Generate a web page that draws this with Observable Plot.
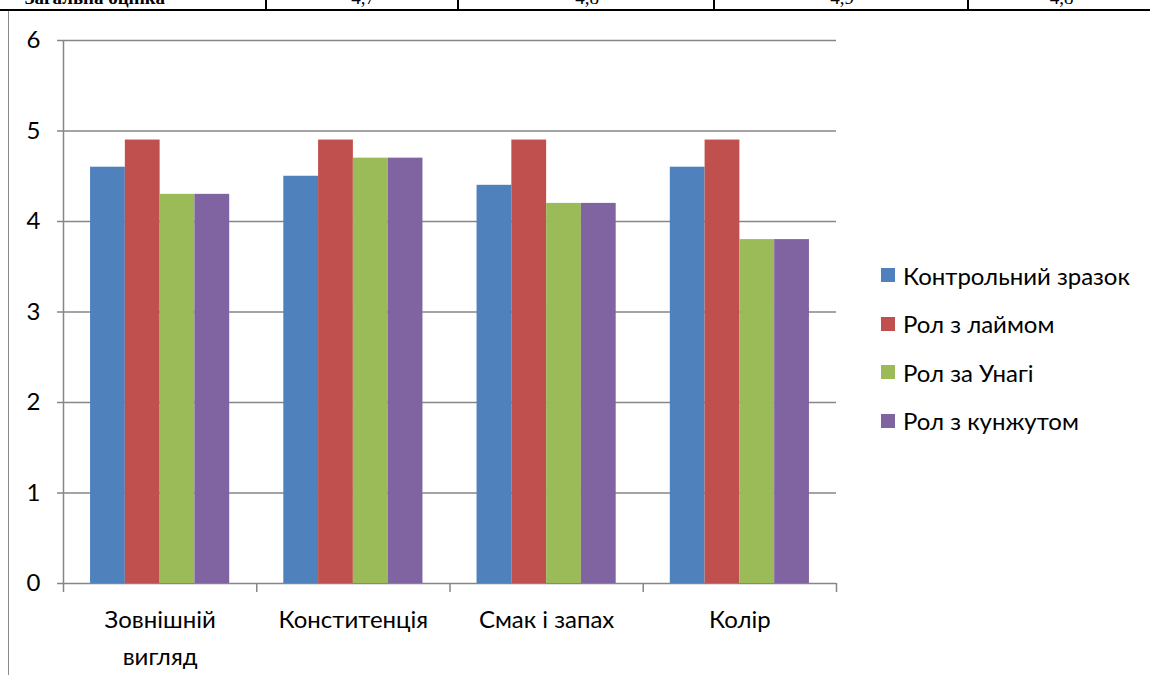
<!DOCTYPE html>
<html>
<head>
<meta charset="utf-8">
<script src="https://cdn.jsdelivr.net/npm/d3@7"></script>
<script src="https://cdn.jsdelivr.net/npm/@observablehq/plot@0.6"></script>
<style>
  html, body { margin: 0; padding: 0; background: #fff; }
  body { width: 1150px; height: 675px; position: relative; overflow: hidden; font-family: Lato, "Open Sans", sans-serif; }
  #table { position: absolute; left: 0; top: 0; width: 1150px; height: 9px; border-bottom: 2px solid #000; overflow: hidden; font-family: "Liberation Serif", serif; font-size: 19px; }
  #table .cell { position: absolute; top: 0; height: 9px; border-left: 2px solid #000; }
  #table .txt { position: absolute; bottom: 2px; white-space: nowrap; line-height: 19px; }
  #table .lab { font-weight: bold; }
  #frame { position: absolute; left: 8px; top: 11px; bottom: 0; width: 0; border-left: 1.5px solid #8a8a8a; }
  #chart { position: absolute; left: 0; top: 0; }
  #legend { position: absolute; left: 881px; top: 251px; font-family: Lato, sans-serif; font-size: 24px; color: #000; }
  #legend .item { height: 48.5px; display: flex; align-items: center; }
  #legend .sw { width: 14px; height: 14px; margin-right: 8px; flex: none; }
</style>
</head>
<body>
<div id="table"></div>
<div id="frame"></div>
<div id="chart"></div>
<div id="legend"></div>
<script>
// ---- data ----
const categories = ["Зовнішній вигляд", "Конститенція", "Смак і запах", "Колір"];
const categoryLines = ["Зовнішній\nвигляд", "Конститенція", "Смак і запах", "Колір"];
const series = ["Контрольний зразок", "Рол з лаймом", "Рол за Унагі", "Рол з кунжутом"];
const control = [4.6, 4.5, 4.4, 4.6];
const lime = [4.9, 4.9, 4.9, 4.9];
const unagi = [4.3, 4.7, 4.2, 3.8];
const sesame = [4.3, 4.7, 4.2, 3.8];
const yTicks = [0, 1, 2, 3, 4, 5, 6];
const colors = ["#4F81BD", "#C0504D", "#9BBB59", "#8064A2"];
const tableLabel = "Загальна оцінка";
const tableValues = ["4,7", "4,8", "4,9", "4,8"];

// ---- top table fragment (cut off by the page edge, as in the source) ----
const table = document.getElementById("table");
const cellEdges = [265, 457, 713, 967, 1152];
{
  const t = document.createElement("div");
  t.className = "txt lab";
  t.style.right = (1150 - 165) + "px";
  t.textContent = tableLabel;
  table.appendChild(t);
}
tableValues.forEach((v, i) => {
  const c = document.createElement("div");
  c.className = "cell";
  c.style.left = cellEdges[i] + "px";
  c.style.width = (cellEdges[i + 1] - cellEdges[i]) + "px";
  const t = document.createElement("div");
  t.className = "txt";
  t.style.left = "0"; t.style.right = "0"; t.style.textAlign = "center";
  t.textContent = v;
  c.appendChild(t);
  table.appendChild(c);
});

// ---- chart ----
const seriesValues = [control, lime, unagi, sesame];
const rows = categories.flatMap((c, ci) =>
  seriesValues.map((vals, si) => ({ci, si, category: c, series: series[si], value: vals[ci]}))
);
const GAP = 0.14, BW = 0.18;
const gray = "#868686";

const chart = Plot.plot({
  width: 1150,
  height: 675,
  marginLeft: 63,
  marginRight: 314,
  marginTop: 40,
  marginBottom: 92,
  style: {fontFamily: "Lato, sans-serif", fontSize: "24px", color: "#000", background: "transparent"},
  x: {type: "linear", domain: [0, categories.length], axis: null},
  y: {domain: [0, 6], axis: null},
  color: {domain: series, range: colors},
  marks: [
    Plot.ruleY(yTicks, {x1: 0, x2: categories.length, stroke: gray, strokeWidth: 1.5}),
    Plot.rectY(rows, {
      x1: d => d.ci + GAP + d.si * BW,
      x2: d => d.ci + GAP + (d.si + 1) * BW,
      y1: 0,
      y2: "value",
      fill: "series"
    }),
    Plot.ruleX([0], {y1: 0, y2: 6, stroke: gray, strokeWidth: 1.5}),
    Plot.axisY({ticks: yTicks, label: null, tickSize: 6, tickPadding: 17, stroke: gray, strokeWidth: 1.5, tickFormat: d => String(d), fill: "#000"}),
    Plot.axisX({ticks: d3.range(categories.length + 1), label: null, tickSize: 9, tickFormat: () => "", stroke: gray, strokeWidth: 1.5}),
    Plot.axisX({
      ticks: categories.map((c, i) => i + 0.5),
      label: null,
      tickSize: 0,
      tickPadding: 18,
      lineHeight: 1.54,
      fill: "#000",
      tickFormat: d => categoryLines[Math.floor(d)]
    })
  ]
});
document.getElementById("chart").appendChild(chart);

// ---- legend ----
const legend = document.getElementById("legend");
series.forEach((s, i) => {
  const item = document.createElement("div");
  item.className = "item";
  const sw = document.createElement("span");
  sw.className = "sw";
  sw.style.background = colors[i];
  const lab = document.createElement("span");
  lab.textContent = s;
  item.appendChild(sw);
  item.appendChild(lab);
  legend.appendChild(item);
});
</script>
</body>
</html>
